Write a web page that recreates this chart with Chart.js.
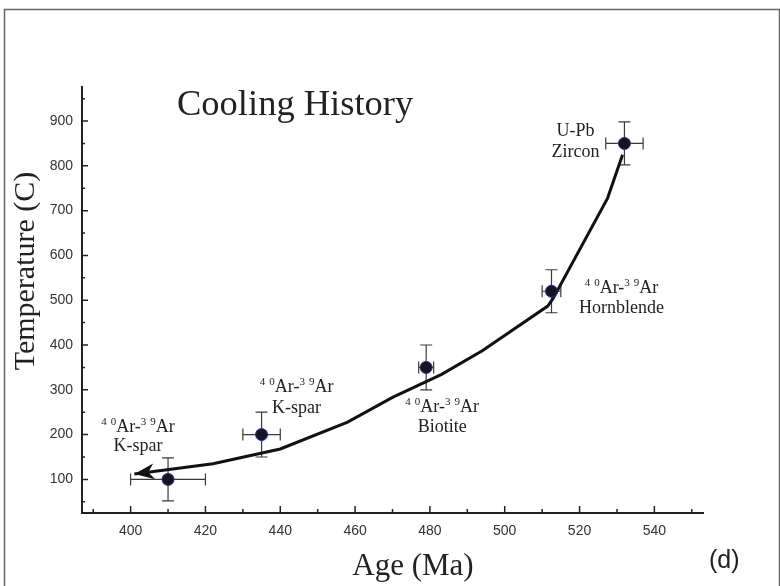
<!DOCTYPE html>
<html>
<head>
<meta charset="utf-8">
<script src="https://cdn.jsdelivr.net/npm/chart.js@4.4.1/dist/chart.umd.min.js"></script>
<style>
  html, body { margin: 0; padding: 0; background: #fff; }
  canvas { display: block; }
</style>
</head>
<body>
<canvas id="cooling-chart" width="780" height="586"></canvas>
<script>
const ctx = document.getElementById("cooling-chart").getContext("2d");

// Dated samples
const ageMa = [410, 435, 479, 512.5, 532];
const tempC = [100, 200, 350, 520, 850];
const ageErr = [10, 5, 2, 2.5, 5];
const tempErr = [48, 50, 50, 48, 48];
const pointLabels = [
  ["40Ar-39Ar", "K-spar"],
  ["40Ar-39Ar", "K-spar"],
  ["40Ar-39Ar", "Biotite"],
  ["40Ar-39Ar", "Hornblende"],
  ["U-Pb", "Zircon"],
];

// Cooling path, old -> young (arrow at the young end)
const pathAge = [531.5, 527.5, 513, 511.5, 494, 483, 470, 458, 440, 422, 401];
const pathTemp = [825, 728, 505, 487, 387, 334, 283, 228, 168, 135, 112];

// Tick labels
const xTickLabels = [400, 420, 440, 460, 480, 500, 520, 540];
const yTickLabels = [100, 200, 300, 400, 500, 600, 700, 800, 900];

// Label placement (pixel offsets from the point: dx, first line dy, second line dy)
const labelOffsets = [
  [-30, -47, -28],
  [35, -43, -22],
  [16, 45, 65],
  [70, 2, 22],
  [-49, -7, 14],
];

const serif = "'Liberation Serif', 'Times New Roman', serif";
const sans = "'Liberation Sans', Arial, sans-serif";
const textColor = "#222";

// draws "40Ar-39Ar" style text with superscript mass numbers, centred on cx
function drawIsotopeText(c, text, cx, baseY) {
  const parts = text.match(/\d+|[^\d]+/g);
  const runs = [];
  parts.forEach(p => {
    if (/^\d+$/.test(p)) {
      p.split("").forEach((d, k) => runs.push({ t: d, sup: true, gap: k < p.length - 1 ? 4 : 0 }));
    } else {
      runs.push({ t: p, sup: false, gap: 0 });
    }
  });
  let total = 0;
  runs.forEach(r => {
    c.font = r.sup ? "11px " + serif : "18px " + serif;
    r.w = c.measureText(r.t).width;
    total += r.w + r.gap;
  });
  let xPos = cx - total / 2;
  c.textAlign = "left";
  runs.forEach(r => {
    c.font = r.sup ? "11px " + serif : "18px " + serif;
    c.fillText(r.t, xPos, r.sup ? baseY - 7 : baseY);
    xPos += r.w + r.gap;
  });
}

// tick every `step` inside the axis range (minor + major)
function stepTicks(step) {
  return scale => {
    const out = [];
    for (let v = Math.ceil(scale.min / step) * step; v <= scale.max; v += step) out.push({ value: v });
    scale.ticks = out;
  };
}

const errorBars = {
  id: "errorBars",
  beforeDatasetsDraw(chart) {
    const { ctx: c, scales: { x, y } } = chart;
    const cap = 6;
    c.save();
    c.strokeStyle = "#3a3a3a";
    c.lineWidth = 1.2;
    ageMa.forEach((a, i) => {
      const px = x.getPixelForValue(a);
      const py = y.getPixelForValue(tempC[i]);
      const x0 = x.getPixelForValue(a - ageErr[i]);
      const x1 = x.getPixelForValue(a + ageErr[i]);
      const y0 = y.getPixelForValue(tempC[i] - tempErr[i]);
      const y1 = y.getPixelForValue(tempC[i] + tempErr[i]);
      c.beginPath();
      c.moveTo(x0, py); c.lineTo(x1, py);
      c.moveTo(x0, py - cap); c.lineTo(x0, py + cap);
      c.moveTo(x1, py - cap); c.lineTo(x1, py + cap);
      c.moveTo(px, y0); c.lineTo(px, y1);
      c.moveTo(px - cap, y0); c.lineTo(px + cap, y0);
      c.moveTo(px - cap, y1); c.lineTo(px + cap, y1);
      c.stroke();
    });
    c.restore();
  },
};

const arrowHead = {
  id: "arrowHead",
  afterDatasetsDraw(chart) {
    const { ctx: c, scales: { x, y } } = chart;
    const n = pathAge.length;
    const tx = x.getPixelForValue(pathAge[n - 1]), ty = y.getPixelForValue(pathTemp[n - 1]);
    const sx = x.getPixelForValue(pathAge[n - 2]), sy = y.getPixelForValue(pathTemp[n - 2]);
    const ang = Math.atan2(ty - sy, tx - sx);
    c.save();
    c.translate(tx, ty);
    c.rotate(ang);
    c.fillStyle = "#111";
    c.beginPath();
    c.moveTo(0, 0);
    c.lineTo(-20, -8);
    c.lineTo(-14, 0);
    c.lineTo(-20, 8);
    c.closePath();
    c.fill();
    c.restore();
  },
};

const innerTicks = {
  id: "innerTicks",
  afterDraw(chart) {
    const { ctx: c, chartArea: area, scales: { x, y } } = chart;
    c.save();
    c.strokeStyle = "#222";
    c.lineWidth = 1.5;
    c.beginPath();
    x.ticks.forEach(t => {
      const len = xTickLabels.includes(t.value) ? 7 : 4;
      const px = x.getPixelForValue(t.value);
      c.moveTo(px, area.bottom); c.lineTo(px, area.bottom - len);
    });
    y.ticks.forEach(t => {
      const len = yTickLabels.includes(t.value) ? 6 : 3;
      const py = y.getPixelForValue(t.value);
      c.moveTo(area.left, py); c.lineTo(area.left + len, py);
    });
    c.stroke();
    c.restore();
  },
};

const texts = {
  id: "texts",
  afterDraw(chart) {
    const { ctx: c, scales: { x, y } } = chart;
    c.save();
    c.fillStyle = textColor;
    c.textBaseline = "alphabetic";

    // point labels
    pointLabels.forEach((lines, i) => {
      const px = x.getPixelForValue(ageMa[i]);
      const py = y.getPixelForValue(tempC[i]);
      const [dx, dy1, dy2] = labelOffsets[i];
      drawIsotopeText(c, lines[0], px + dx, py + dy1);
      c.font = "18px " + serif;
      c.textAlign = "center";
      c.fillText(lines[1], px + dx, py + dy2);
    });

    // title
    c.font = "36.5px " + serif;
    c.textAlign = "left";
    c.fillText("Cooling History", 177, 115);

    // axis titles
    c.font = "31px " + serif;
    c.textAlign = "center";
    c.fillText("Age (Ma)", 413, 575);

    c.save();
    c.translate(34, 271);
    c.rotate(-Math.PI / 2);
    c.font = "30px " + serif;
    c.fillText("Temperature (C)", 0, 0);
    c.restore();

    // panel letter
    c.font = "25px " + sans;
    c.textAlign = "left";
    c.fillText("(d)", 709, 568);

    // frame
    c.strokeStyle = "#666";
    c.lineWidth = 1.5;
    c.strokeRect(4.5, 9.5, 775, 590);
    c.restore();
  },
};

const data = {
  datasets: [
    {
      label: "Samples",
      data: ageMa.map((a, i) => ({ x: a, y: tempC[i] })),
      pointRadius: 6,
      pointHoverRadius: 6,
      backgroundColor: "#15151f",
      borderColor: "#2a2aa0",
      borderWidth: 1,
      showLine: false,
    },
    {
      label: "Cooling path",
      type: "line",
      data: pathAge.map((a, i) => ({ x: a, y: pathTemp[i] })),
      borderColor: "#111",
      borderWidth: 3,
      pointRadius: 0,
      tension: 0,
      fill: false,
    },
  ],
};

const options = {
  responsive: false,
  animation: false,
  layout: { padding: { left: 0, top: 87, right: 77, bottom: 0 } },
  plugins: {
    legend: { display: false },
    tooltip: { enabled: false },
    title: { display: false },
  },
  scales: {
    x: {
      type: "linear",
      min: 387,
      max: 553,
      afterBuildTicks: stepTicks(10),
      afterFit: scale => { scale.height = 73; },
      grid: { display: true, drawOnChartArea: false, drawTicks: false, color: "rgba(0,0,0,0)" },
      border: { display: true, color: "#222", width: 2 },
      ticks: {
        autoSkip: false,
        maxRotation: 0,
        padding: 10,
        color: "#333",
        font: { family: sans, size: 14 },
        callback: v => (xTickLabels.includes(v) ? v : ""),
      },
    },
    y: {
      type: "linear",
      min: 25,
      max: 976,
      afterBuildTicks: stepTicks(50),
      afterFit: scale => { scale.width = 82; },
      grid: { display: true, drawOnChartArea: false, drawTicks: false, color: "rgba(0,0,0,0)" },
      border: { display: true, color: "#222", width: 2 },
      ticks: {
        autoSkip: false,
        padding: 9,
        color: "#333",
        font: { family: sans, size: 14 },
        callback: v => (yTickLabels.includes(v) ? v : ""),
      },
    },
  },
};

new Chart(ctx, {
  type: "scatter",
  data: data,
  options: options,
  plugins: [errorBars, arrowHead, innerTicks, texts],
});
</script>
</body>
</html>
